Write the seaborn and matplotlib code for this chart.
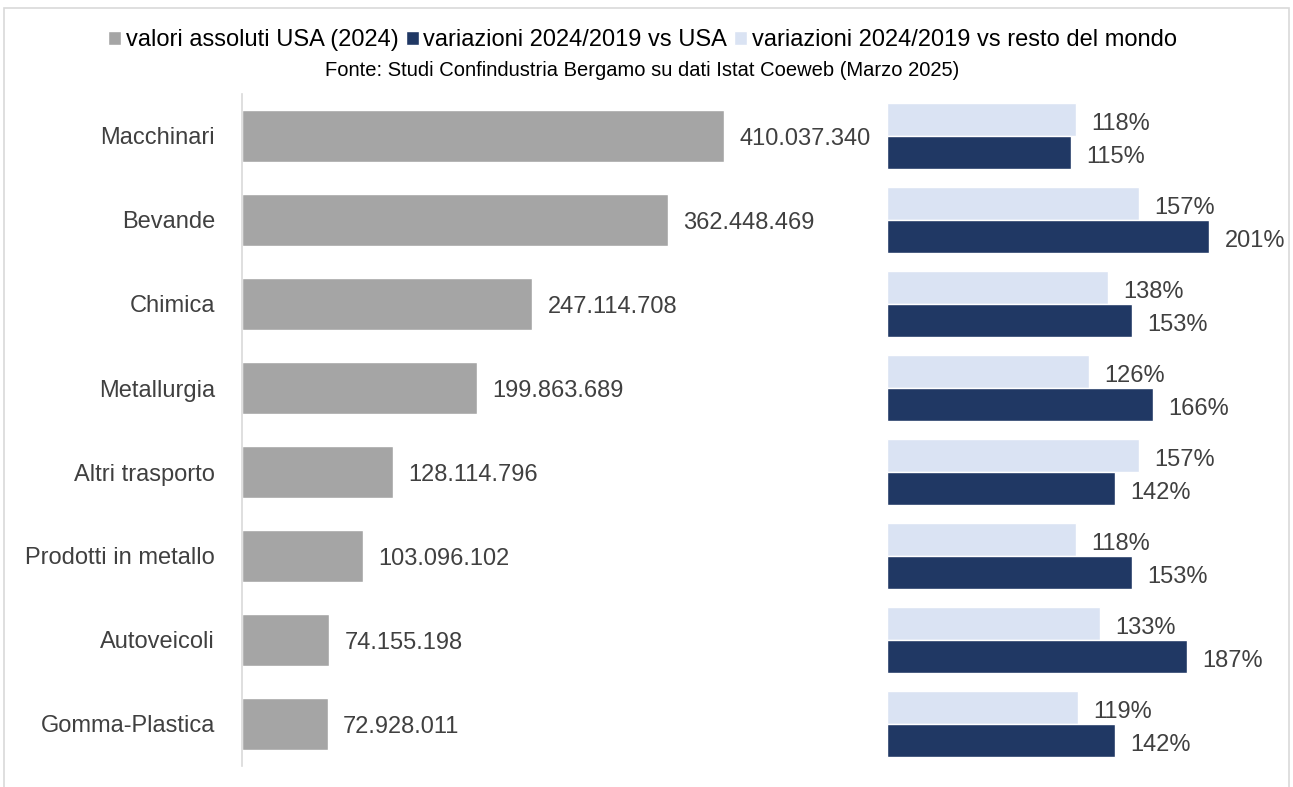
import pandas as pd
import seaborn as sns
import matplotlib.pyplot as plt
from matplotlib.patches import Rectangle, Patch

# ============================================
# DATA
# ============================================

categorie = [
    "Macchinari", "Bevande", "Chimica", "Metallurgia",
    "Altri trasporto", "Prodotti in metallo", "Autoveicoli", "Gomma-Plastica",
]
valori_usa = [410037340, 362448469, 247114708, 199863689,
              128114796, 103096102, 74155198, 72928011]
var_usa = [1.15, 2.01, 1.53, 1.66, 1.42, 1.53, 1.87, 1.42]
var_resto = [1.18, 1.57, 1.38, 1.26, 1.57, 1.18, 1.33, 1.19]

serie_usa = "variazioni 2024/2019 vs USA"
serie_resto = "variazioni 2024/2019 vs resto del mondo"
serie_valori = "valori assoluti USA (2024)"

GRIGIO = "#A5A5A5"
BLU = "#203864"
AZZURRO = "#DAE3F3"
TESTO = "#404040"

df_var = pd.DataFrame({
    "Settore": categorie * 2,
    "Valore": var_resto + var_usa,
    "Serie": [serie_resto] * len(categorie) + [serie_usa] * len(categorie),
})

# ============================================
# PLOT
# ============================================

sns.set_style("white")
plt.rcParams["font.family"] = ["Liberation Sans", "DejaVu Sans"]

W, H = 1293, 787
fig = plt.figure(figsize=(W / 100, H / 100), dpi=100)

# frame around chart
fig.patches.append(Rectangle((4 / W, -0.05), 1285 / W, 1 - 8 / H + 0.05,
                             transform=fig.transFigure, fill=False,
                             edgecolor="#D9D9D9", linewidth=1.2))

top, bottom = 94, 766
ax1 = fig.add_axes([242 / W, 1 - bottom / H, 628 / W, (bottom - top) / H])
ax2 = fig.add_axes([887 / W, 1 - bottom / H, 401 / W, (bottom - top) / H])

LBL = 17

# left panel: absolute values
sns.barplot(x=valori_usa, y=categorie, color=GRIGIO, width=0.62,
            saturation=1, ax=ax1)
ax1.set_xlim(0, max(valori_usa) * 628 / 482)
ax1.set_ylim(7.5, -0.5)
anns = ax1.bar_label(ax1.containers[0],
                     labels=[f"{v:,}".replace(",", ".") for v in valori_usa],
                     padding=11, fontsize=LBL, color=TESTO)
for a in anns:
    a.xyann = (a.xyann[0], a.xyann[1] - 2)
ax1.set_xticks([])
ax1.set_xlabel("")
ax1.set_ylabel("")
ax1.tick_params(axis="y", length=0, pad=19.5, labelsize=LBL, labelcolor=TESTO)
for s in ["top", "right", "bottom"]:
    ax1.spines[s].set_visible(False)
ax1.spines["left"].set_color("#D9D9D9")
ax1.spines["left"].set_linewidth(1.2)

# right panel: variations
sns.barplot(data=df_var, x="Valore", y="Settore", hue="Serie",
            hue_order=[serie_resto, serie_usa],
            palette=[AZZURRO, BLU], width=0.78, saturation=1,
            legend=False, ax=ax2)
ax2.set_xlim(0, 2.5)
ax2.set_ylim(7.5, -0.5)
for cont, vals in zip(ax2.containers, [var_resto, var_usa]):
    anns = ax2.bar_label(cont, labels=[f"{round(v * 100)}%" for v in vals],
                         padding=11, fontsize=LBL, color=TESTO)
    for a in anns:
        a.xyann = (a.xyann[0], a.xyann[1] - 3.5)
ax2.set_xticks([])
ax2.set_yticks([])
ax2.set_xlabel("")
ax2.set_ylabel("")
for s in ax2.spines.values():
    s.set_visible(False)

# legend + source
handles = [Patch(facecolor=GRIGIO), Patch(facecolor=BLU), Patch(facecolor=AZZURRO)]
fig.legend(handles, [serie_valori, serie_usa, serie_resto],
           loc="center", bbox_to_anchor=(0.497, 1 - 40 / H), ncol=3,
           frameon=False, fontsize=17, handlelength=0.55, handleheight=0.55,
           handletextpad=0.2, columnspacing=0.3, labelcolor="black")
fig.text(0.497, 1 - 70 / H,
         "Fonte: Studi Confindustria Bergamo su dati Istat Coeweb (Marzo 2025)",
         ha="center", va="center", fontsize=14.5, color="black")

fig.savefig("out.png", dpi=100)
